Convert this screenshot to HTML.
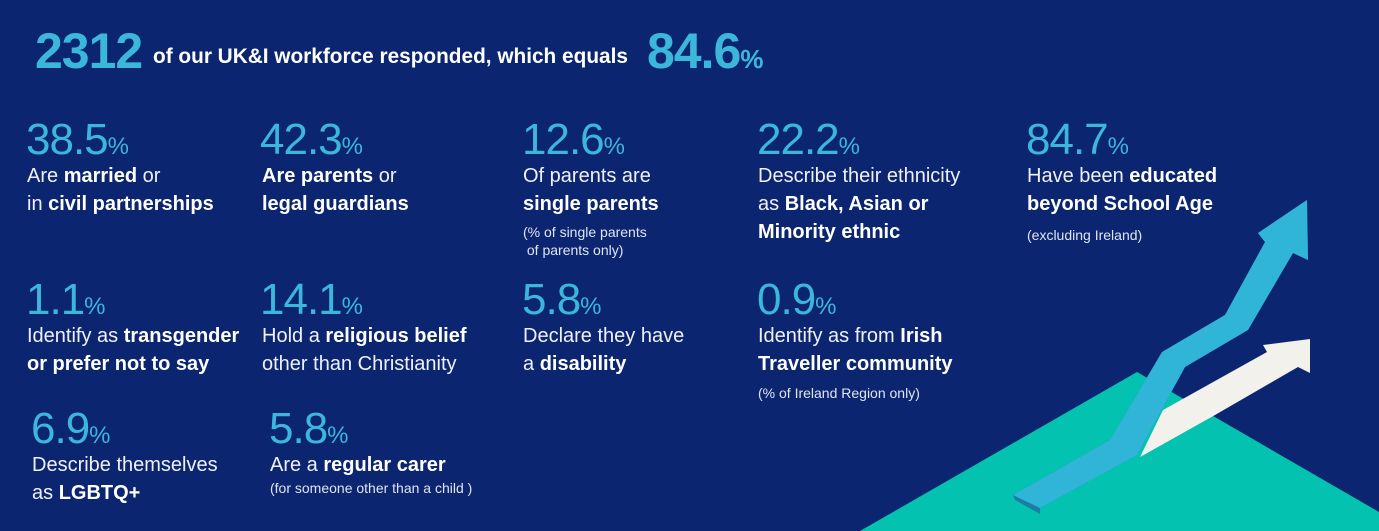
<!DOCTYPE html>
<html><head><meta charset="utf-8"><style>
body{margin:0;width:1379px;height:531px;overflow:hidden;background:#0b2570;font-family:"Liberation Sans",sans-serif;color:#fff;position:relative}
.a{position:absolute;white-space:nowrap}
.n{color:#3cb7dc;font-size:44px;line-height:44px;letter-spacing:-1px}
.n small{font-size:24px;letter-spacing:0}
.t{font-size:20px;line-height:28px;color:#eef2f8}
.s{font-size:14px;line-height:18px;color:#dfe6f2}
b{font-weight:bold;color:#fff}
</style></head><body>
<svg class="a" style="left:0;top:0" width="1379" height="531">
<polygon points="860,531 1137,372 1379,512 1379,531" fill="#03c3b0"/>
<polygon points="1140,457 1163,410 1267,352 1263,345 1310,339 1310,373 1298,367 1215,415" fill="#f3f1ec"/>
<polygon points="1013,495 1110,440 1162,352 1225,315 1265,242 1258,233 1307,200 1308,260 1293,253 1248,330 1185,367 1137,455 1040,508 1040,514 1015,500" fill="#1a7ea3"/>
<polygon points="1013,495 1110,440 1162,352 1225,315 1265,242 1258,233 1307,200 1308,260 1293,253 1248,330 1185,367 1137,455 1040,508" fill="#30b4d8"/>
</svg>
<div class="a" style="left:35px;top:22px;font-size:50px;font-weight:bold;color:#3cb7dc;letter-spacing:-1px">2312</div>
<div class="a" style="left:153px;top:45px;font-size:20.8px;font-weight:bold">of our UK&amp;I workforce responded, which equals</div>
<div class="a" style="left:647px;top:22px;font-size:50px;font-weight:bold;color:#3cb7dc;letter-spacing:-1px">84.6<span style="font-size:26px">%</span></div>

<div class="a n" style="left:26px;top:118px">38.5<small>%</small></div>
<div class="a t" style="left:27px;top:162px">Are <b>married</b> or<br>in <b>civil partnerships</b></div>
<div class="a n" style="left:260px;top:118px">42.3<small>%</small></div>
<div class="a t" style="left:262px;top:162px"><b>Are parents</b> or<br><b>legal guardians</b></div>
<div class="a n" style="left:522px;top:118px">12.6<small>%</small></div>
<div class="a t" style="left:523px;top:162px">Of parents are<br><b>single parents</b></div>
<div class="a s" style="left:523px;top:223px">(% of single parents<br>&nbsp;of parents only)</div>
<div class="a n" style="left:757px;top:118px">22.2<small>%</small></div>
<div class="a t" style="left:758px;top:162px">Describe their ethnicity<br>as <b>Black, Asian or<br>Minority ethnic</b></div>
<div class="a n" style="left:1026px;top:118px">84.7<small>%</small></div>
<div class="a t" style="left:1027px;top:162px">Have been <b>educated<br>beyond School Age</b></div>
<div class="a s" style="left:1027px;top:226px">(excluding Ireland)</div>

<div class="a n" style="left:26px;top:278px">1.1<small>%</small></div>
<div class="a t" style="left:27px;top:322px">Identify as <b>transgender<br>or prefer not to say</b></div>
<div class="a n" style="left:260px;top:278px">14.1<small>%</small></div>
<div class="a t" style="left:262px;top:322px">Hold a <b>religious belief</b><br>other than Christianity</div>
<div class="a n" style="left:522px;top:278px">5.8<small>%</small></div>
<div class="a t" style="left:523px;top:322px">Declare they have<br>a <b>disability</b></div>
<div class="a n" style="left:757px;top:278px">0.9<small>%</small></div>
<div class="a t" style="left:758px;top:322px">Identify as from <b>Irish<br>Traveller community</b></div>
<div class="a s" style="left:758px;top:384px">(% of Ireland Region only)</div>

<div class="a n" style="left:31px;top:407px">6.9<small>%</small></div>
<div class="a t" style="left:32px;top:451px">Describe themselves<br>as <b>LGBTQ+</b></div>
<div class="a n" style="left:269px;top:407px">5.8<small>%</small></div>
<div class="a t" style="left:270px;top:451px">Are a <b>regular carer</b></div>
<div class="a s" style="left:270px;top:479px">(for someone other than a child )</div>
</body></html>
